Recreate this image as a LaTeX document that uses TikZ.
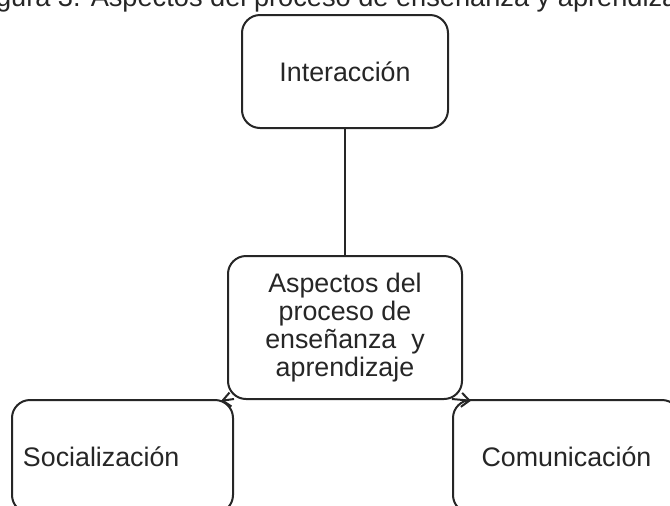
\documentclass[tikz,border=0pt]{standalone}
\usepackage{fontspec}
\setmainfont{Liberation Sans}
\usetikzlibrary{arrows.meta}

\begin{document}
\begin{tikzpicture}[yscale=-1,x=0.5pt,y=0.5pt,
    caja/.style={draw=black!85,line width=1pt,rounded corners=9pt,fill=white,
      text=black!85,font=\fontsize{13.4}{14}\selectfont},
    linea/.style={draw=black!85,line width=1pt},
    flecha/.style={linea,-{Straight Barb[length=4pt,width=7pt]}}]
      \useasboundingbox (0,0) rectangle (670,505);
      \clip (0,0) rectangle (670,505);
      \node[anchor=base,text=black!85,font=\fontsize{13.6}{15}\selectfont] (titulo) at (336,6)
        {Figura 3. Aspectos del proceso de enseñanza y aprendizaje};
      \node[caja,minimum width=103pt,minimum height=56.5pt] (inter) at (345,71.5) {Interacción};
      \node[caja,minimum width=117pt,minimum height=71.5pt,align=center] (centro) at (345,327.5)
        {Aspectos del\\proceso de\\enseñanza\ \ y\\aprendizaje};
      \node[caja,minimum width=110.5pt,minimum height=56.5pt,text width=99.5pt,
        inner xsep=5.5pt,align=left] (soc) at (122.5,456.5) {Socialización};
      \node[caja,minimum width=113.5pt,minimum height=56.5pt] (com) at (566.5,456.5) {Comunicación};
      \draw[linea] (inter) -- (centro);
      \draw[flecha,shorten >=-3pt] (soc.north east) -- (centro.south west);
      \draw[flecha,shorten >=-4pt] (com.north west) -- (centro.south east);
    \end{tikzpicture}
\end{document}
